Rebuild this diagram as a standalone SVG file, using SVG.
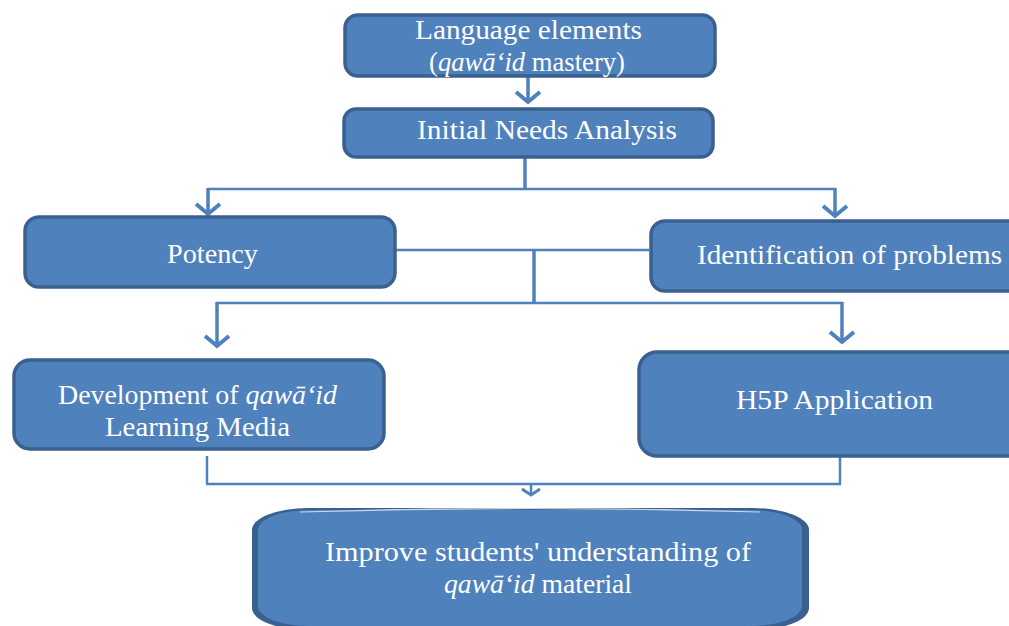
<svg xmlns="http://www.w3.org/2000/svg" width="1009" height="626" viewBox="0 0 1009 626">
  <style>
    .box { fill: #4F81BD; stroke: #3A6090; stroke-width: 3.5; }
    .lbl { font-family: "Liberation Serif", "Times New Roman", serif; font-size: 27px; fill: #FFFFFF; text-anchor: start; }
    .it { font-style: italic; }
    .ln { fill: none; stroke: #4F81BD; stroke-width: 2.5; }
    .lnb { fill: none; stroke: #4F81BD; stroke-width: 3.5; }
  </style>
  <defs>
    <marker id="arr" markerUnits="userSpaceOnUse" viewBox="-16 -16 32 32" markerWidth="32" markerHeight="32" refX="0" refY="0" orient="auto" overflow="visible">
      <path d="M-11,-12 L-1,0 L-11,12" fill="none" stroke="#4F81BD" stroke-width="4"/>
    </marker>
    <marker id="arrs" markerUnits="userSpaceOnUse" viewBox="-10 -10 20 20" markerWidth="20" markerHeight="20" refX="0" refY="0" orient="auto" overflow="visible">
      <path d="M-6,-9 L0,0 L-6,9" fill="none" stroke="#4F81BD" stroke-width="3"/>
    </marker>
  </defs>

  <rect width="1009" height="626" fill="#FFFFFF"/>

  <!-- connectors -->
  <g id="connectors">
    <line class="lnb" x1="528" y1="77" x2="528" y2="103" marker-end="url(#arr)"/>
    <line class="lnb" x1="525" y1="157" x2="525" y2="189"/>
    <line class="ln" x1="208" y1="189" x2="836" y2="189"/>
    <line class="lnb" x1="208" y1="188" x2="208" y2="215" marker-end="url(#arr)"/>
    <line class="lnb" x1="835" y1="188" x2="835" y2="217" marker-end="url(#arr)"/>
    <line class="ln" x1="396" y1="250" x2="649" y2="250"/>
    <line class="lnb" x1="534" y1="250" x2="534" y2="303"/>
    <line class="ln" x1="216" y1="303" x2="843" y2="303"/>
    <line class="lnb" x1="217" y1="302" x2="217" y2="347" marker-end="url(#arr)"/>
    <line class="lnb" x1="842" y1="302" x2="842" y2="343" marker-end="url(#arr)"/>
    <line class="ln" x1="207" y1="456" x2="207" y2="484"/>
    <line class="ln" x1="840" y1="457" x2="840" y2="484"/>
    <line class="ln" x1="206" y1="484" x2="841" y2="484"/>
    <line class="ln" x1="531" y1="484" x2="531" y2="495" marker-end="url(#arrs)"/>
  </g>

  <!-- language elements -->
  <g id="language-elements">
    <rect class="box" x="345" y="15" width="370" height="61" rx="13"/>
    <text class="lbl" x="415" y="39" textLength="227" lengthAdjust="spacingAndGlyphs">Language elements</text>
    <text class="lbl" x="429" y="71" textLength="196" lengthAdjust="spacingAndGlyphs">(<tspan class="it">qawā‘id</tspan> mastery)</text>
  </g>

  <!-- initial needs analysis -->
  <g id="initial-needs-analysis">
    <rect class="box" x="344" y="109" width="369" height="48" rx="12"/>
    <text class="lbl" x="417" y="139" textLength="260" lengthAdjust="spacingAndGlyphs">Initial Needs Analysis</text>
  </g>

  <!-- potency -->
  <g id="potency">
    <rect class="box" x="25" y="217" width="370" height="70" rx="14"/>
    <text class="lbl" x="167" y="263" textLength="91" lengthAdjust="spacingAndGlyphs">Potency</text>
  </g>

  <!-- identification of problems -->
  <g id="identification">
    <rect class="box" x="651" y="221" width="380" height="70" rx="14"/>
    <text class="lbl" x="697" y="264" textLength="305" lengthAdjust="spacingAndGlyphs">Identification of problems</text>
  </g>

  <!-- development of learning media -->
  <g id="development">
    <rect class="box" x="14" y="360" width="370" height="89" rx="16"/>
    <text class="lbl" x="58" y="404" textLength="279" lengthAdjust="spacingAndGlyphs">Development of <tspan class="it">qawā‘id</tspan></text>
    <text class="lbl" x="105" y="436" textLength="185" lengthAdjust="spacingAndGlyphs">Learning Media</text>
  </g>

  <!-- H5P application -->
  <g id="h5p">
    <rect class="box" x="639" y="352" width="390" height="104" rx="18"/>
    <text class="lbl" x="736" y="409" textLength="197" lengthAdjust="spacingAndGlyphs">H5P Application</text>
  </g>

  <!-- outcome -->
  <g id="outcome">
    <rect x="252" y="508" width="557" height="122" rx="56" ry="22" fill="#3A6090"/>
    <rect x="258" y="510" width="544" height="116" rx="52" ry="20" fill="#4F81BD"/>
    <path d="M300,512 Q530,505 760,512" fill="none" stroke="#C9D7EA" stroke-width="1.2"/>
    <text class="lbl" x="325" y="561" textLength="426" lengthAdjust="spacingAndGlyphs">Improve students' understanding of</text>
    <text class="lbl" x="444" y="593" textLength="188" lengthAdjust="spacingAndGlyphs"><tspan class="it">qawā‘id</tspan> material</text>
  </g>
</svg>
